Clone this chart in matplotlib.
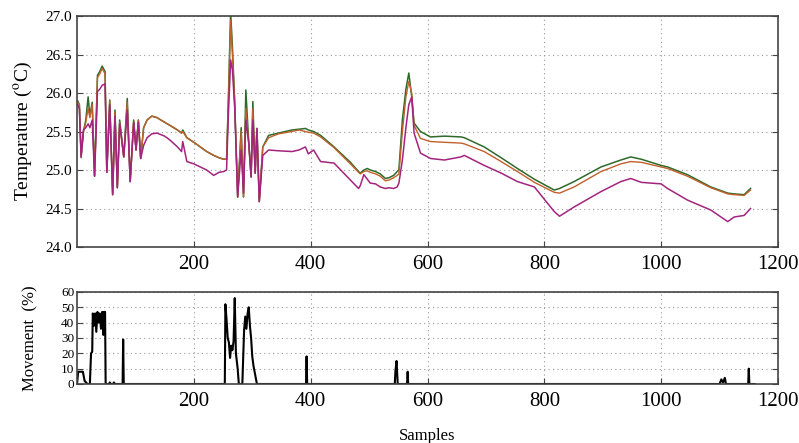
import matplotlib
matplotlib.use("Agg")
import matplotlib.pyplot as plt

plt.rcParams["font.family"] = ["Liberation Serif", "DejaVu Serif"]
plt.rcParams["mathtext.fontset"] = "stix"

# sensor temperatures (sample index, three sensors)
samples = [1, 4, 7, 11, 15, 19, 22, 26, 30, 35, 39, 43, 48, 51, 56, 61, 65, 69, 73,
           80, 86, 91, 97, 101, 105, 109, 114, 120, 128, 137, 150, 159, 172, 179,
           181, 188, 200, 211, 222, 234, 243, 251, 256, 259, 263, 266, 270, 275,
           281, 285, 289, 294, 298, 301, 305, 308, 312, 318, 328, 345, 368, 380,
           391, 396, 405, 417, 440, 468, 482, 485, 491, 497, 502, 511, 519, 528,
           534, 542, 548, 551, 557, 563, 568, 573, 577, 588, 605, 629, 657, 663,
           697, 726, 754, 783, 817, 826, 851, 897, 931, 948, 966, 1000, 1011, 1045,
           1085, 1114, 1125, 1142, 1153]
temp_green = [25.90, 25.85, 25.18, 25.50, 25.65, 25.95, 25.70, 25.88, 24.92, 26.23,
              26.28, 26.35, 26.28, 24.97, 25.91, 24.68, 25.78, 24.77, 25.65, 25.17,
              25.93, 24.85, 25.65, 25.26, 25.65, 25.15, 25.55, 25.65, 25.70, 25.68,
              25.62, 25.58, 25.52, 25.48, 25.52, 25.42, 25.36, 25.30, 25.24, 25.19,
              25.16, 25.14, 25.14, 25.90, 27.05, 26.60, 25.87, 24.65, 25.55, 24.65,
              26.04, 25.35, 24.91, 25.89, 24.96, 25.54, 24.59, 25.30, 25.45, 25.48,
              25.52, 25.53, 25.54, 25.52, 25.50, 25.45, 25.30, 25.10, 24.98, 24.96,
              25.00, 25.02, 25.00, 24.98, 24.95, 24.89, 24.90, 24.93, 24.98, 25.00,
              25.65, 26.05, 26.26, 25.95, 25.61, 25.50, 25.43, 25.44, 25.43, 25.42,
              25.30, 25.16, 25.02, 24.88, 24.74, 24.76, 24.85, 25.04, 25.13, 25.17,
              25.14, 25.06, 25.04, 24.94, 24.78, 24.70, 24.69, 24.68, 24.76]
temp_orange = [25.88, 25.85, 25.18, 25.50, 25.62, 25.80, 25.68, 25.85, 24.92, 26.20,
               26.25, 26.32, 26.25, 24.97, 25.90, 24.68, 25.75, 24.77, 25.62, 25.17,
               25.88, 24.85, 25.63, 25.26, 25.65, 25.15, 25.55, 25.65, 25.70, 25.68,
               25.62, 25.58, 25.52, 25.48, 25.50, 25.42, 25.36, 25.30, 25.24, 25.19,
               25.16, 25.14, 25.14, 25.85, 26.95, 26.50, 25.87, 24.65, 25.50, 24.65,
               25.80, 25.35, 24.91, 25.80, 24.96, 25.54, 24.59, 25.30, 25.42, 25.47,
               25.50, 25.52, 25.50, 25.49, 25.48, 25.43, 25.29, 25.08, 24.97, 24.95,
               24.98, 24.99, 24.97, 24.95, 24.92, 24.86, 24.87, 24.90, 24.93, 24.95,
               25.50, 25.95, 26.15, 26.00, 25.58, 25.41, 25.37, 25.36, 25.35, 25.34,
               25.24, 25.11, 24.98, 24.84, 24.71, 24.70, 24.78, 24.98, 25.08, 25.11,
               25.10, 25.04, 25.02, 24.92, 24.77, 24.69, 24.68, 24.67, 24.74]
temp_magenta = [25.85, 25.80, 25.16, 25.52, 25.55, 25.60, 25.55, 25.65, 24.92, 26.02,
                26.05, 26.10, 26.12, 24.97, 25.85, 24.68, 25.70, 24.77, 25.60, 25.17,
                25.78, 24.85, 25.62, 25.26, 25.62, 25.15, 25.32, 25.42, 25.47, 25.48,
                25.44, 25.39, 25.30, 25.24, 25.37, 25.11, 25.08, 25.04, 25.00, 24.93,
                24.97, 24.98, 25.00, 25.70, 26.43, 26.30, 25.80, 24.65, 25.26, 24.70,
                25.65, 25.35, 24.91, 25.65, 24.96, 25.54, 24.59, 25.19, 25.26, 25.25,
                25.24, 25.26, 25.30, 25.21, 25.26, 25.11, 25.09, 24.87, 24.76, 24.80,
                24.94, 24.88, 24.83, 24.82, 24.78, 24.76, 24.77, 24.76, 24.78, 24.83,
                25.13, 25.55, 25.85, 25.95, 25.48, 25.22, 25.15, 25.13, 25.17, 25.19,
                25.06, 24.96, 24.85, 24.78, 24.46, 24.40, 24.52, 24.72, 24.85, 24.89,
                24.84, 24.82, 24.76, 24.61, 24.48, 24.33, 24.39, 24.41, 24.50]

# detected movement (%)
move_samples = [0, 2, 10, 13, 18, 22, 24, 26, 27, 29, 31, 33, 35, 37, 39, 41, 43, 45,
                46, 48, 49, 55, 56, 58, 62, 63, 65, 78, 79, 80, 253, 254, 256, 258,
                260, 262, 264, 266, 268, 270, 272, 275, 277, 283, 286, 288, 290, 292,
                294, 296, 298, 300, 302, 306, 308, 392, 393, 394, 544, 545, 547, 549,
                565, 566, 567, 1100, 1103, 1106, 1109, 1111, 1149, 1150, 1151, 1160]
movement = [0, 8, 8, 2, 0, 0, 20, 21, 46, 38, 46, 34, 47, 40, 46, 36, 47, 32,
            47, 47, 0, 0, 1, 0, 0, 1, 0, 0, 29, 0, 0, 52, 42, 30,
            27, 17, 25, 22, 28, 56, 20, 10, 0, 0, 35, 44, 36, 46,
            50, 38, 30, 18, 12, 4, 0, 0, 18, 0, 0, 8, 15, 0,
            0, 8, 0, 0, 3, 1, 4, 0, 0, 10, 0, 0]

xticks = [200, 400, 600, 800, 1000, 1200]
temp_ticks = [24.0, 24.5, 25.0, 25.5, 26.0, 26.5, 27.0]
move_ticks = [0, 10, 20, 30, 40, 50, 60]

fig = plt.figure(figsize=(7.99, 4.43), dpi=100)
ax1 = fig.add_axes([0.0964, 0.4424, 0.8773, 0.5214])
ax2 = fig.add_axes([0.0964, 0.1332, 0.8773, 0.2077])

ax1.plot(samples, temp_green, color="#2f6a2a", lw=1.1)
ax1.plot(samples, temp_orange, color="#c0602a", lw=1.0)
ax1.plot(samples, temp_magenta, color="#a3247f", lw=1.1)
ax1.set_xlim(0, 1200)
ax1.set_ylim(24.0, 27.0)
ax1.set_xticks(xticks)
ax1.set_yticks(temp_ticks)
ax1.set_yticklabels([f"{t:.1f}" for t in temp_ticks], fontsize=11)
ax1.tick_params(axis="x", labelsize=15, pad=6)
ax1.set_ylabel("Temperature ($^{\\rm o}$C)", fontsize=14, labelpad=8)

ax2.plot(move_samples, movement, color="black", lw=1.5)
ax2.set_xlim(0, 1200)
ax2.set_ylim(0, 60)
ax2.set_xticks(xticks)
ax2.set_yticks(move_ticks)
ax2.tick_params(axis="y", labelsize=9.5, pad=2)
ax2.tick_params(axis="x", labelsize=15, pad=6)
ax2.set_ylabel("Movement  (%)", fontsize=12, labelpad=16)
ax2.set_xlabel("Samples", fontsize=12, labelpad=12)

for ax in (ax1, ax2):
    ax.grid(True, linestyle=(0, (1, 3)), color="#999999", lw=0.8)
    ax.tick_params(direction="in", right=True, length=4, color="#444444")
    for sp in ax.spines.values():
        sp.set_color("#444444")
        sp.set_linewidth(1.2)

fig.savefig("out.png", dpi=100)
